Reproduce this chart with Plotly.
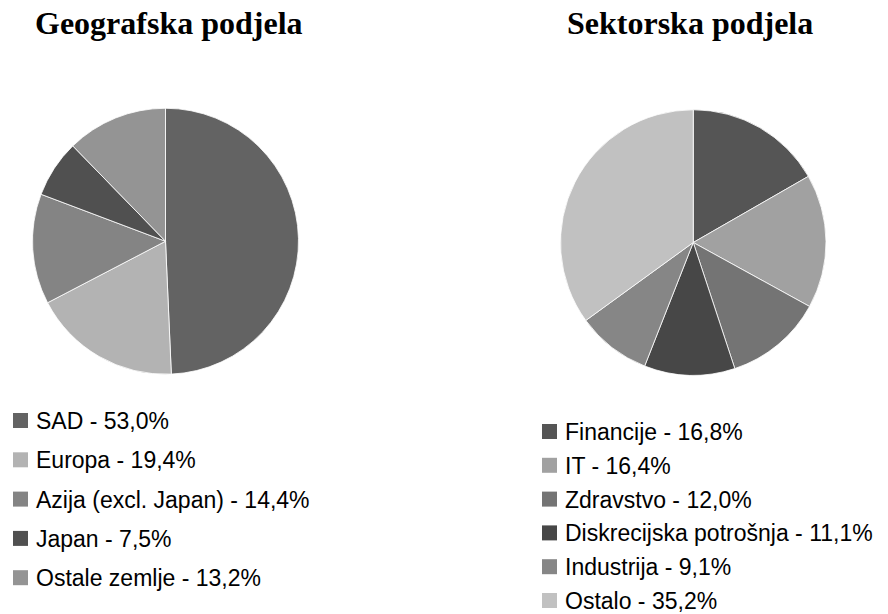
import plotly.graph_objects as go

W, H = 888, 614

# ---- data ----
geo_labels = ["SAD", "Europa", "Azija (excl. Japan)", "Japan", "Ostale zemlje"]
geo_values = [53.0, 19.4, 14.4, 7.5, 13.2]
geo_colors = ["#636363", "#b3b3b3", "#848484", "#505050", "#949494"]

sec_labels = ["Financije", "IT", "Zdravstvo", "Diskrecijska potrošnja", "Industrija", "Ostalo"]
sec_values = [16.8, 16.4, 12.0, 11.1, 9.1, 35.2]
sec_colors = ["#555555", "#a1a1a1", "#747474", "#474747", "#868686", "#c1c1c1"]

titles = ["Geografska podjela", "Sektorska podjela"]


def fmt(v):
    return f"{v:.1f}".replace(".", ",") + "%"


def px(x):
    return x / W


def py(y):
    return 1 - y / H


fig = go.Figure()

# pies: (labels, values, colors, domain in px)
pies = [
    (geo_labels, geo_values, geo_colors, (32.5, 298.5, 108, 374.5)),
    (sec_labels, sec_values, sec_colors, (560.5, 826, 109, 376)),
]
for labels, values, colors, (x0, x1, y0, y1) in pies:
    fig.add_trace(go.Pie(
        labels=labels, values=values, sort=False, direction="clockwise",
        rotation=0, textinfo="none", hoverinfo="label+percent",
        marker=dict(colors=colors, line=dict(color="white", width=0.8)),
        domain=dict(x=[px(x0), px(x1)], y=[py(y1), py(y0)]),
        showlegend=False,
    ))

annotations = []
shapes = []

# titles
for t, cx in zip(titles, [168.5, 689.5]):
    annotations.append(dict(
        text=f"<b>{t}</b>", x=px(cx), y=py(23), xref="paper", yref="paper",
        xanchor="center", yanchor="middle", showarrow=False,
        font=dict(family="Liberation Serif, Times New Roman, serif", size=32, color="#000000"),
    ))

# legends
legends = [
    (geo_labels, geo_values, geo_colors, 13, 420.5, 39.3),
    (sec_labels, sec_values, sec_colors, 542, 431.5, 33.8),
]
sq = 15
for labels, values, colors, lx, ly0, step in legends:
    for i, (lab, val, col) in enumerate(zip(labels, values, colors)):
        cy = ly0 + i * step
        shapes.append(dict(
            type="rect", xref="paper", yref="paper",
            x0=px(lx), x1=px(lx + sq), y0=py(cy + sq / 2), y1=py(cy - sq / 2),
            fillcolor=col, line=dict(width=0),
        ))
        annotations.append(dict(
            text=f"{lab} - {fmt(val)}", x=px(lx + sq + 6), y=py(cy + 0.5),
            xref="paper", yref="paper", xanchor="left", yanchor="middle",
            showarrow=False,
            font=dict(family="Liberation Sans, Arial, sans-serif", size=23, color="#000000"),
        ))

fig.update_layout(
    width=W, height=H, margin=dict(l=0, r=0, t=0, b=0),
    paper_bgcolor="white", plot_bgcolor="white",
    annotations=annotations, shapes=shapes, showlegend=False,
)

# remove the browser's default 8px page margin so the figure fills the window
fig.write_html(
    "out.html",
    config={"displayModeBar": False},
    post_script="document.body.style.margin='0px';document.body.style.overflow='hidden';",
)
